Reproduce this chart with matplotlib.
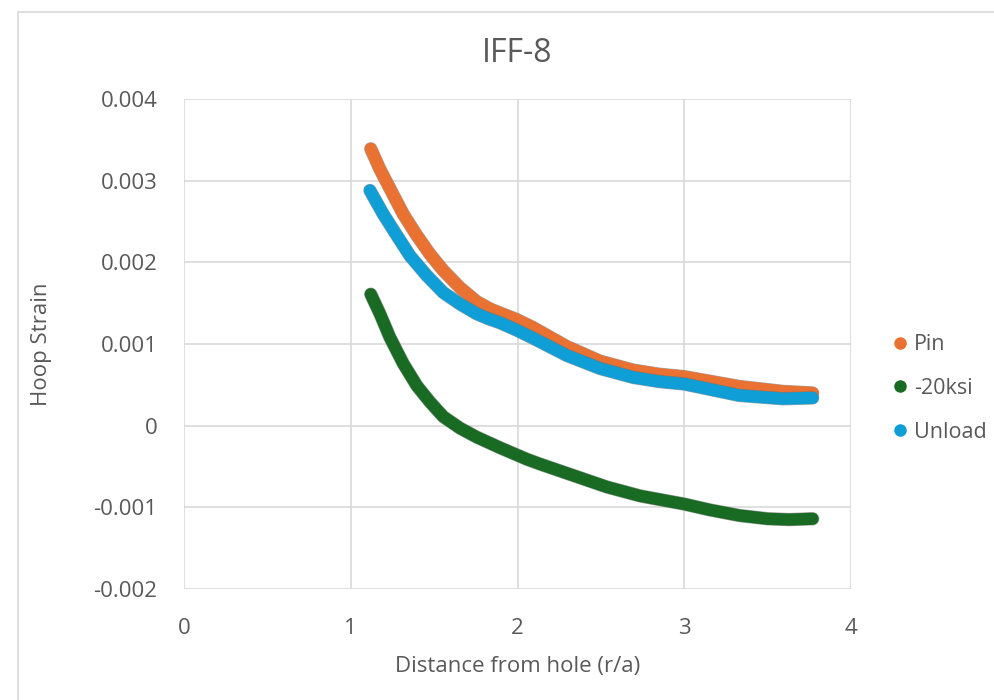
import matplotlib.pyplot as plt
import matplotlib.patheffects as pe
from matplotlib.patches import Rectangle
from matplotlib.ticker import FuncFormatter

plt.rcParams['font.family'] = ['Open Sans', 'DejaVu Sans']

# Traced data (r/a, hoop strain)
pin_x = [1.12, 1.175, 1.246, 1.315, 1.396, 1.475, 1.555, 1.655, 1.755, 1.835, 1.895, 1.995, 2.095, 2.295, 2.495, 2.695, 2.85, 3.00, 3.33, 3.59, 3.77]
pin_y = [0.00339, 0.00314, 0.00286, 0.00259, 0.00233, 0.00210, 0.00190, 0.00169, 0.00152, 0.00143, 0.00138, 0.00130, 0.00120, 0.00097, 0.00079, 0.00068, 0.00063, 0.00060, 0.00048, 0.00042, 0.00040]

ksi_x = [1.12, 1.175, 1.235, 1.315, 1.396, 1.475, 1.555, 1.655, 1.755, 1.895, 2.055, 2.135, 2.335, 2.535, 2.735, 3.00, 3.15, 3.33, 3.50, 3.63, 3.77]
ksi_y = [0.00161, 0.00137, 0.00108, 0.00076, 0.00049, 0.00029, 0.00011, -0.00003, -0.00014, -0.00027, -0.00041, -0.00047, -0.00061, -0.00075, -0.00086, -0.00096, -0.00103, -0.00110, -0.00114, -0.00115, -0.00114]

unl_x = [1.115, 1.195, 1.276, 1.355, 1.455, 1.555, 1.655, 1.755, 1.825, 1.895, 1.995, 2.095, 2.295, 2.495, 2.695, 2.85, 3.00, 3.33, 3.59, 3.77]
unl_y = [0.00288, 0.00259, 0.00233, 0.00208, 0.00184, 0.00163, 0.00149, 0.00137, 0.00131, 0.00126, 0.00117, 0.00107, 0.00086, 0.00070, 0.00059, 0.00054, 0.00051, 0.00037, 0.00033, 0.00034]

series = [
    ("Pin", pin_x, pin_y, "#E97132"),
    ("-20ksi", ksi_x, ksi_y, "#196B24"),
    ("Unload", unl_x, unl_y, "#0F9ED5"),
]

txt = "#595959"

fig = plt.figure(figsize=(9.94, 7.0), dpi=100)

# chart frame (cut off on right and bottom like the screenshot)
fig.patches.append(Rectangle((18 / 994, -0.2), 2.0, 1.2 - 12 / 700,
                             transform=fig.transFigure, fill=False,
                             edgecolor="#D9D9D9", linewidth=1.2))

ax = fig.add_axes([184 / 994, 1 - 589 / 700, (851 - 184) / 994, (589 - 99) / 700])

for name, xs, ys, c in series:
    ax.plot(xs, ys, color=c, linewidth=8.8, solid_capstyle="round",
            solid_joinstyle="round", label=name, zorder=3,
            path_effects=[pe.Stroke(linewidth=9.6, foreground="#6b6b6b", alpha=0.6),
                          pe.Normal()])

ax.set_xlim(0, 4)
ax.set_ylim(-0.002, 0.004)
ax.set_xticks([0, 1, 2, 3, 4])
ax.set_yticks([-0.002, -0.001, 0, 0.001, 0.002, 0.003, 0.004])
ax.yaxis.set_major_formatter(FuncFormatter(lambda v, p: "0" if abs(v) < 1e-12 else f"{v:.3f}"))
ax.grid(True, color="#D9D9D9", linewidth=1.2)
ax.set_axisbelow(True)
for s in ax.spines.values():
    s.set_visible(False)
ax.tick_params(length=0, labelsize=16, colors=txt)
ax.tick_params(axis="y", pad=19)
ax.tick_params(axis="x", pad=21)

ax.set_title("IFF-8", fontsize=23, color=txt, pad=27)
ax.set_xlabel("Distance from hole (r/a)", fontsize=16, color=txt, labelpad=12)
ax.set_ylabel("Hoop Strain", fontsize=16, color=txt, labelpad=30)

handles = [plt.Line2D([], [], marker="o", linestyle="", markersize=8,
                      color=c) for _, _, _, c in series]
fig.legend(handles, [s[0] for s in series], loc="upper left",
           bbox_to_anchor=(870 / 994, 1 - 315 / 700), frameon=False,
           fontsize=15.5, labelcolor=txt, handletextpad=0.15,
           labelspacing=1.05, handlelength=1.0)

fig.savefig("out.png", dpi=100)
